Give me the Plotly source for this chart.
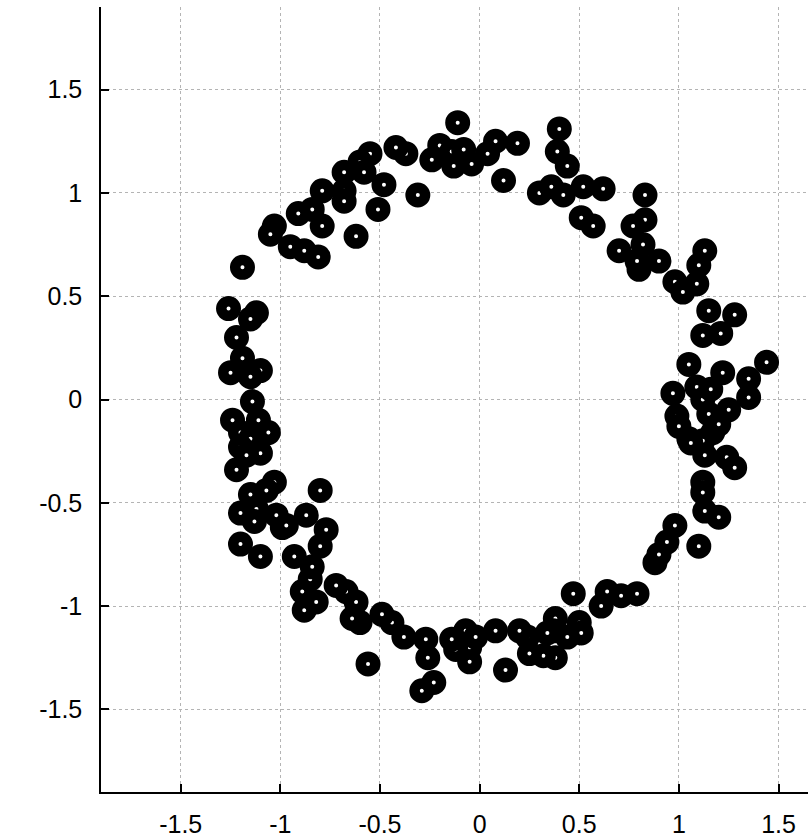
import plotly.graph_objects as go

# Point coordinates
x_vals = [
    -0.11, -0.20, -0.14, -0.08, -0.13, -0.04, -0.24, -0.37, -0.42, -0.55,
    -0.60, -0.58, -0.68, -0.48, -0.31, -0.51, -0.68, -0.68, -0.79, -0.84,
    -0.91, -0.79, -1.03, -1.05, -0.95, -0.88, -0.81, -0.62, -1.19, -1.26,
    -1.12, -1.15, 0.04, 0.08, 0.19, 0.12, 0.40, 0.39, 0.44, 0.30,
    0.36, 0.42, 0.52, 0.62, 0.51, 0.57, 0.83, 0.83, 0.77, 0.82,
    0.70, 0.80, 0.79, 0.90, 0.98, 1.02, 1.09, 1.10, 1.13, 1.15,
    1.28, 1.12, 1.21, 1.44, 1.05, 1.22, 1.35, 1.35, 1.09, 0.97,
    1.12, 1.25, 0.99, 1.00, 1.15, 1.05, 1.17, 1.12, 1.06, 1.13,
    1.24, 1.28, 1.12, 1.12, 1.13, 1.20, 0.98, 1.10, 0.94, 1.16,
    1.20, 0.88, 0.90, 0.79, 0.71, 0.64, 0.61, 0.47, 0.50, 0.51,
    0.44, 0.38, 0.37, 0.38, 0.32, 0.25, 0.24, 0.20, 0.08, 0.13,
    -0.07, -0.05, -0.05, -0.12, -0.14, -0.27, -0.26, -0.29, -0.23, -0.56,
    -0.38, -0.44, -0.49, -0.60, -0.64, -0.62, -0.67, -0.72, -0.88, -0.82,
    -0.89, -0.85, -0.84, -0.93, -0.80, -0.99, -0.77, -0.87, -1.02, 0.34,
    -0.02, -1.22, -1.19, -1.25, -1.10, -1.15, -1.14, -1.24, -1.06, -1.11,
    -1.20, -1.15, -1.20, -1.10, -1.17, -1.22, -1.03, -1.07, -1.15, -0.80,
    -1.20, -1.12, -1.13, -0.97, -1.20, -1.10,
]
y_vals = [
    1.34, 1.23, 1.20, 1.21, 1.13, 1.14, 1.16, 1.19, 1.22, 1.19,
    1.15, 1.10, 1.10, 1.04, 0.99, 0.92, 1.01, 0.96, 1.01, 0.92,
    0.90, 0.84, 0.84, 0.80, 0.74, 0.72, 0.69, 0.79, 0.64, 0.44,
    0.42, 0.39, 1.19, 1.25, 1.24, 1.06, 1.31, 1.20, 1.13, 1.00,
    1.03, 0.99, 1.03, 1.02, 0.88, 0.84, 0.99, 0.87, 0.84, 0.75,
    0.72, 0.63, 0.67, 0.67, 0.57, 0.52, 0.56, 0.65, 0.72, 0.43,
    0.41, 0.31, 0.32, 0.18, 0.17, 0.13, 0.10, 0.01, 0.06, 0.03,
    0.00, -0.05, -0.08, -0.13, -0.07, -0.19, -0.16, -0.20, -0.21, -0.27,
    -0.28, -0.33, -0.40, -0.45, -0.54, -0.57, -0.61, -0.71, -0.69, 0.05,
    -0.12, -0.79, -0.75, -0.94, -0.95, -0.93, -1.00, -0.94, -1.08, -1.13,
    -1.15, -1.06, -1.12, -1.25, -1.24, -1.23, -1.15, -1.12, -1.12, -1.31,
    -1.12, -1.20, -1.27, -1.21, -1.16, -1.16, -1.25, -1.41, -1.37, -1.28,
    -1.15, -1.08, -1.04, -1.08, -1.06, -0.98, -0.93, -0.90, -1.02, -0.98,
    -0.93, -0.87, -0.81, -0.76, -0.71, -0.62, -0.63, -0.56, -0.56, -1.13,
    -1.15, 0.30, 0.20, 0.13, 0.14, 0.11, -0.01, -0.10, -0.16, -0.10,
    -0.16, -0.19, -0.23, -0.26, -0.27, -0.34, -0.40, -0.44, -0.46, -0.44,
    -0.55, -0.53, -0.59, -0.61, -0.70, -0.76,
]

x_ticks = [-1.5, -1, -0.5, 0, 0.5, 1, 1.5]
x_tick_labels = ["-1.5", "-1", "-0.5", "0", "0.5", "1", "1.5"]
y_ticks = [-1.5, -1, -0.5, 0, 0.5, 1, 1.5]
y_tick_labels = ["-1.5", "-1", "-0.5", "0", "0.5", "1", "1.5"]

fig = go.Figure()
fig.add_trace(go.Scatter(
    x=x_vals, y=y_vals, mode="markers",
    marker=dict(symbol="circle", size=14.5, color="white",
                line=dict(color="black", width=10.5)),
    showlegend=False, hoverinfo="skip",
))

axis_common = dict(
    showline=True, linecolor="black", linewidth=1.5,
    ticks="inside", ticklen=8, tickwidth=1.5, tickcolor="black",
    showgrid=True, gridcolor="#b4b4b4", gridwidth=1, griddash="dot",
    zeroline=False, mirror=False,
    tickfont=dict(family="Liberation Sans, Arial, sans-serif", size=25, color="black"),
)

fig.update_layout(
    width=808, height=839,
    margin=dict(l=101, r=0, t=7, b=47),
    paper_bgcolor="white", plot_bgcolor="white",
    xaxis=dict(range=[-1.9, 1.648], tickvals=x_ticks, ticktext=x_tick_labels,
               ticklabelstandoff=9, **axis_common),
    yaxis=dict(range=[-1.9, 1.9], tickvals=y_ticks, ticktext=y_tick_labels,
               ticklabelstandoff=12, **axis_common),
)

fig.write_html("out.html")
